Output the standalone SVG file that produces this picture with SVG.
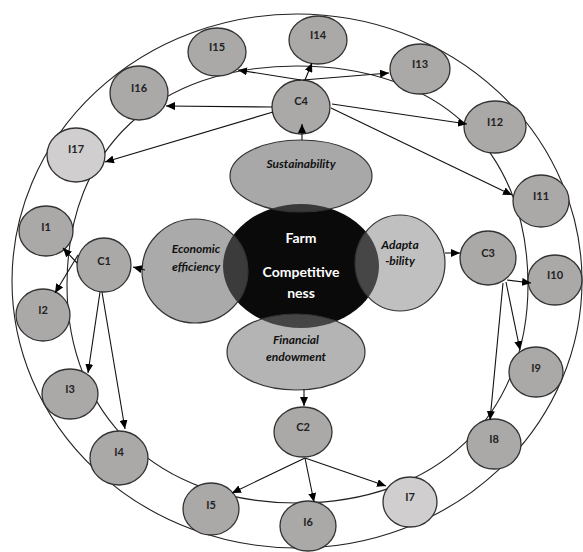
<svg xmlns="http://www.w3.org/2000/svg" width="583" height="552" viewBox="0 0 583 552">
<defs>
<marker id="ah" markerUnits="userSpaceOnUse" markerWidth="10" markerHeight="8" refX="9" refY="4" orient="auto">
<path d="M0,0 L9,4 L0,8 Z" fill="#000"/>
</marker>
<style>
.ring{fill:none;stroke:#222;stroke-width:1.1}
.node{fill:#aba8a8;stroke:#333;stroke-width:1.3}
.light{fill:#d0cece;stroke:#333;stroke-width:1.3}
.lbl{font-family:Lato,"Liberation Sans",sans-serif;font-weight:bold;font-size:11px;fill:#222;text-anchor:middle}
.sat{font-family:Lato,"Liberation Sans",sans-serif;font-weight:bold;font-style:italic;font-size:12px;fill:#111;text-anchor:middle}
.ctr{font-family:Lato,"Liberation Sans",sans-serif;font-weight:bold;font-size:14px;fill:#fff;text-anchor:middle}
.cn{fill:none;stroke:#111;stroke-width:1.1;marker-end:url(#ah)}
</style>
</defs>
<rect width="583" height="552" fill="#fff"/>
<g id="rings">
<ellipse class="ring" cx="297" cy="281" rx="285" ry="267"/>
<path class="ring" d="M297,66 C436,66 528,147 528,285 C528,416 436,503 297,503 C158,503 67,416 67,285 C67,147 158,66 297,66 Z"/>
</g>
<g id="core">
<ellipse cx="301" cy="266" rx="78" ry="62" fill="#0a0a0a"/>
<ellipse cx="301" cy="176" rx="71" ry="36" fill="rgb(96,96,96)" fill-opacity="0.55" stroke="#333" stroke-width="1.2"/>
<ellipse cx="195" cy="271" rx="53" ry="52" fill="rgb(100,100,100)" fill-opacity="0.55" stroke="#333" stroke-width="1.2"/>
<ellipse cx="400" cy="263" rx="45" ry="48" fill="rgb(129,129,129)" fill-opacity="0.5" stroke="#333" stroke-width="1.2"/>
<ellipse cx="296" cy="352" rx="69" ry="38" fill="rgb(118,118,118)" fill-opacity="0.55" stroke="#333" stroke-width="1.2"/>
<text class="sat" x="301" y="168">Sustainability</text>
<text class="sat" x="196" y="253">Economic</text>
<text class="sat" x="196" y="271">efficiency</text>
<text class="sat" x="400" y="249">Adapta</text>
<text class="sat" x="400" y="265">-bility</text>
<text class="sat" x="296" y="344">Financial</text>
<text class="sat" x="296" y="361">endowment</text>
<text class="ctr" x="301" y="243">Farm</text>
<text class="ctr" x="301" y="277">Competitive</text>
<text class="ctr" x="301" y="298">ness</text>
</g>
<g id="I14"><ellipse class="node" cx="318" cy="40" rx="29" ry="24"/><text class="lbl" x="318" y="39">I14</text></g>
<g id="I15"><ellipse class="node" cx="217" cy="52" rx="29" ry="24"/><text class="lbl" x="217" y="51">I15</text></g>
<g id="I13"><ellipse class="node" cx="420" cy="69" rx="30" ry="25"/><text class="lbl" x="420" y="68">I13</text></g>
<g id="I16"><ellipse class="node" cx="139" cy="93" rx="29" ry="27"/><text class="lbl" x="139" y="92">I16</text></g>
<g id="C4"><ellipse class="node" cx="301" cy="107" rx="29" ry="27"/><text class="lbl" x="301" y="105">C4</text></g>
<g id="I12"><ellipse class="node" cx="495" cy="127" rx="31" ry="26"/><text class="lbl" x="495" y="126">I12</text></g>
<g id="I17"><ellipse class="light" cx="76" cy="155" rx="29" ry="27"/><text class="lbl" x="76" y="153">I17</text></g>
<g id="I11"><ellipse class="node" cx="541" cy="201" rx="28" ry="26"/><text class="lbl" x="541" y="200">I11</text></g>
<g id="I1"><ellipse class="node" cx="46" cy="231" rx="27" ry="25"/><text class="lbl" x="46" y="231">I1</text></g>
<g id="C1"><ellipse class="node" cx="104" cy="265" rx="27" ry="27"/><text class="lbl" x="104" y="265">C1</text></g>
<g id="C3"><ellipse class="node" cx="488" cy="258" rx="28" ry="27"/><text class="lbl" x="488" y="257">C3</text></g>
<g id="I10"><ellipse class="node" cx="555" cy="280" rx="27" ry="25"/><text class="lbl" x="555" y="279">I10</text></g>
<g id="I2"><ellipse class="node" cx="43" cy="315" rx="27" ry="26"/><text class="lbl" x="43" y="314">I2</text></g>
<g id="I9"><ellipse class="node" cx="536" cy="372" rx="27" ry="25"/><text class="lbl" x="536" y="372">I9</text></g>
<g id="I3"><ellipse class="node" cx="70" cy="394" rx="28" ry="25"/><text class="lbl" x="70" y="393">I3</text></g>
<g id="C2"><ellipse class="node" cx="303" cy="432" rx="29" ry="25"/><text class="lbl" x="303" y="431">C2</text></g>
<g id="I8"><ellipse class="node" cx="494" cy="444" rx="27" ry="25"/><text class="lbl" x="494" y="443">I8</text></g>
<g id="I4"><ellipse class="node" cx="119" cy="458" rx="29" ry="27"/><text class="lbl" x="119" y="456">I4</text></g>
<g id="I7"><ellipse class="light" cx="410" cy="502" rx="27" ry="25"/><text class="lbl" x="410" y="501">I7</text></g>
<g id="I5"><ellipse class="node" cx="211" cy="509" rx="28" ry="26"/><text class="lbl" x="211" y="509">I5</text></g>
<g id="I6"><ellipse class="node" cx="308" cy="526" rx="28" ry="25"/><text class="lbl" x="308" y="526">I6</text></g>
<g id="connectors">
<line class="cn" x1="302" y1="140" x2="302" y2="124"/>
<line class="cn" x1="305" y1="80" x2="312" y2="63"/>
<line class="cn" x1="301" y1="80" x2="238" y2="70"/>
<line class="cn" x1="303" y1="80" x2="389" y2="73"/>
<line class="cn" x1="272" y1="107" x2="166" y2="106"/>
<line class="cn" x1="273" y1="112" x2="105" y2="162"/>
<line class="cn" x1="332" y1="104" x2="467" y2="124"/>
<line class="cn" x1="331" y1="108" x2="512" y2="195"/>
<line class="cn" x1="145" y1="270" x2="133" y2="267"/>
<line class="cn" x1="77" y1="263" x2="63" y2="248"/>
<line class="cn" x1="78" y1="255" x2="55" y2="293"/>
<line class="cn" x1="100" y1="292" x2="88" y2="373"/>
<line class="cn" x1="102" y1="292" x2="125" y2="429"/>
<line class="cn" x1="304" y1="389" x2="304" y2="406"/>
<line class="cn" x1="305" y1="458" x2="232" y2="493"/>
<line class="cn" x1="305" y1="458" x2="314" y2="502"/>
<line class="cn" x1="305" y1="458" x2="386" y2="486"/>
<line class="cn" x1="445" y1="253" x2="460" y2="253"/>
<line class="cn" x1="507" y1="280" x2="531" y2="283"/>
<line class="cn" x1="506" y1="282" x2="520" y2="350"/>
<line class="cn" x1="503" y1="283" x2="490" y2="420"/>
</g>
</svg>
